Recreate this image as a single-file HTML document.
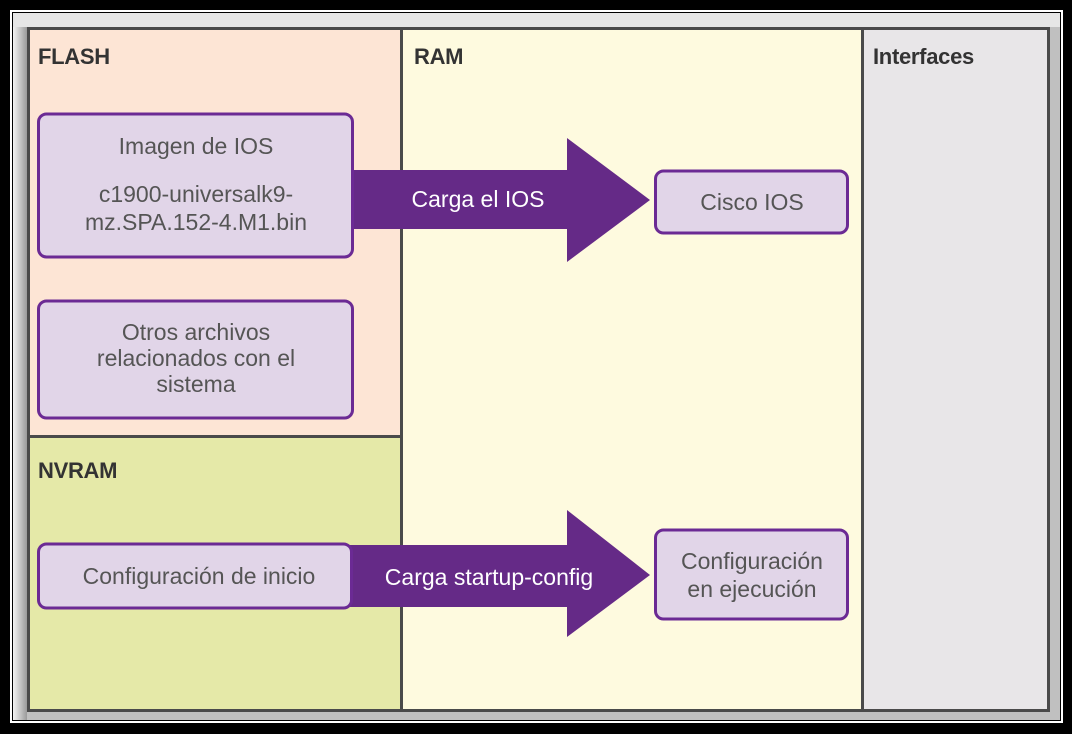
<!DOCTYPE html>
<html><head><meta charset="utf-8"><style>
html,body{margin:0;padding:0;background:#000;}
svg{display:block;}
text{font-family:"Liberation Sans",Arial,sans-serif;}
</style></head><body>
<svg width="1072" height="734" viewBox="0 0 1072 734" xmlns="http://www.w3.org/2000/svg">
<defs>
<linearGradient id="gl" x1="0" x2="1" y1="0" y2="0"><stop offset="0" stop-color="#f4f4f4"/><stop offset="1" stop-color="#9a9a9a"/></linearGradient>
</defs>
<rect x="0" y="0" width="1072" height="734" fill="#000"/>
<rect x="11" y="11" width="1051" height="711" fill="none" stroke="#fff" stroke-width="2"/>
<rect x="13" y="13" width="1047" height="707" fill="#c0c0c0"/>
<rect x="13" y="13" width="14" height="707" fill="url(#gl)"/>
<rect x="13" y="13" width="1047" height="14" fill="#e6e6e6"/>
<rect x="27" y="27" width="1023" height="685" fill="#4a4a4a"/>
<rect x="30" y="30" width="370" height="405" fill="#fde5d5"/>
<rect x="30" y="438" width="370" height="271" fill="#e5e9a8"/>
<rect x="403" y="30" width="458" height="679" fill="#fefadf"/>
<rect x="864" y="30" width="183" height="679" fill="#e8e6e8"/>
<g font-weight="bold" font-size="22" fill="#333" letter-spacing="-0.3">
<text x="38" y="64">FLASH</text>
<text x="414" y="64">RAM</text>
<text x="873" y="64">Interfaces</text>
<text x="38" y="478">NVRAM</text>
</g>
<path d="M350 170 H567 V138 L650 200 L567 262 V229 H350 Z" fill="#652a87"/>
<path d="M350 545 H567 V510 L650 575 L567 637 V607 H350 Z" fill="#652a87"/>
<g fill="#fff" font-size="23" text-anchor="middle">
<text x="478" y="207">Carga el IOS</text>
<text x="489" y="585">Carga startup-config</text>
</g>
<g fill="#e1d5e8" stroke="#6b2a94" stroke-width="3">
<rect x="38.5" y="114" width="314" height="143" rx="8"/>
<rect x="38.5" y="301" width="314" height="117" rx="8"/>
<rect x="38.5" y="544" width="313" height="64" rx="8"/>
<rect x="655.5" y="171" width="192" height="62" rx="8"/>
<rect x="655.5" y="530" width="192" height="89" rx="8"/>
</g>
<g fill="#555" font-size="23" text-anchor="middle">
<text x="196" y="154">Imagen de IOS</text>
<text x="196" y="202">c1900-universalk9-</text>
<text x="196" y="230">mz.SPA.152-4.M1.bin</text>
<text x="196" y="340">Otros archivos</text>
<text x="196" y="366">relacionados con el</text>
<text x="196" y="392">sistema</text>
<text x="199" y="584">Configuración de inicio</text>
<text x="752" y="210">Cisco IOS</text>
<text x="752" y="569">Configuración</text>
<text x="752" y="597">en ejecución</text>
</g>
</svg>
</body></html>
